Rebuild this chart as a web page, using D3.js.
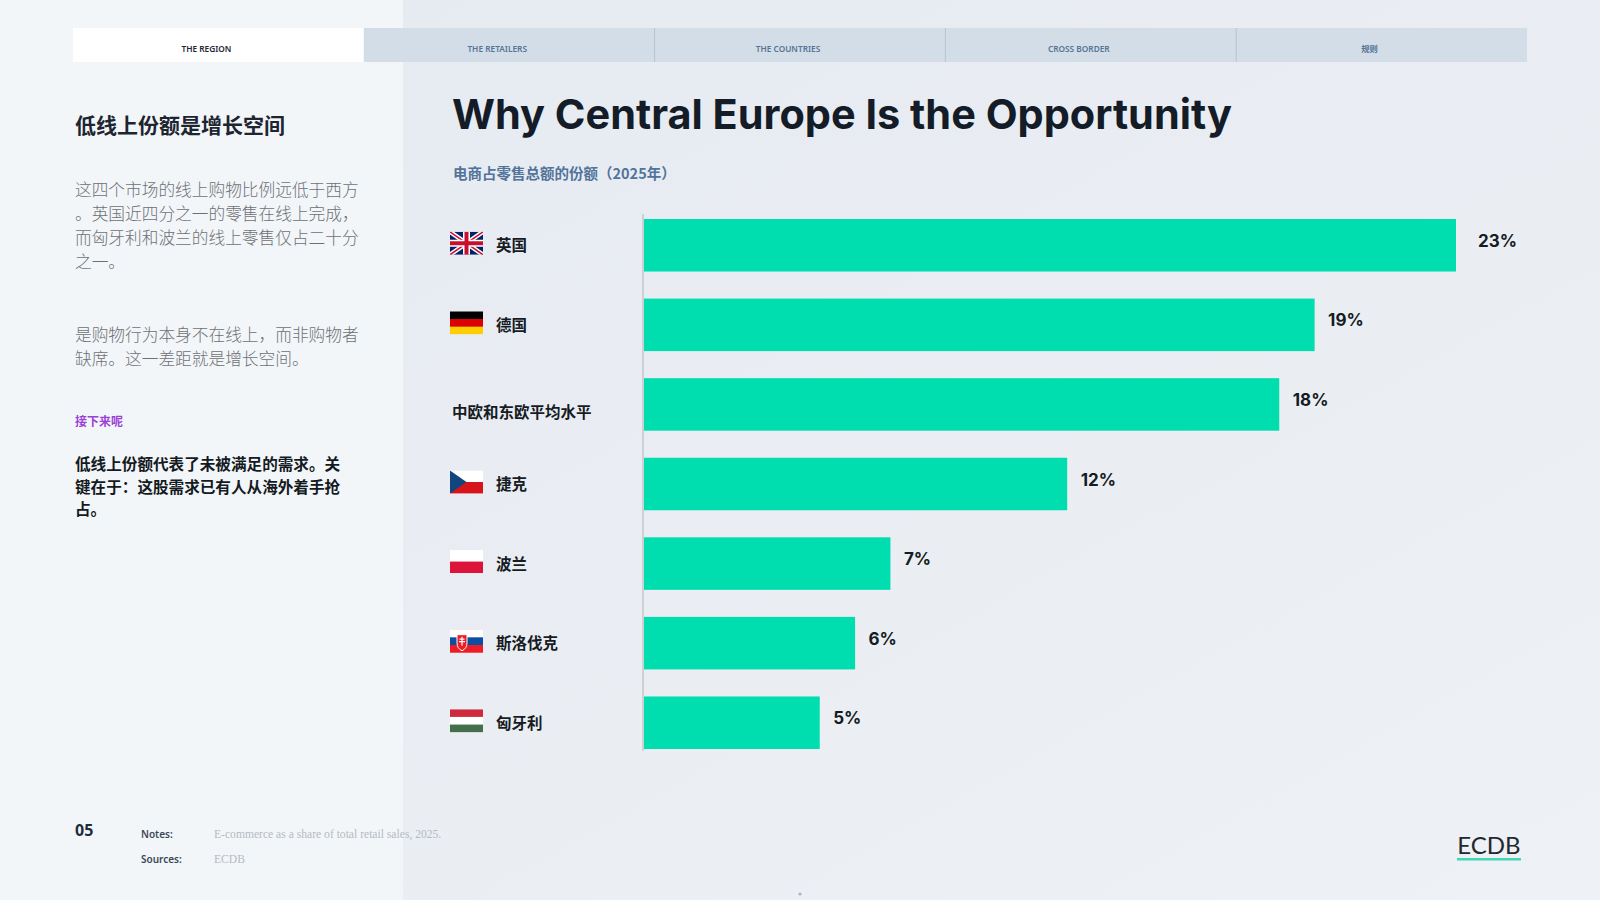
<!DOCTYPE html>
<html>
<head>
<meta charset="utf-8">
<script src="https://cdn.jsdelivr.net/npm/d3@7"></script>
<style>
  body { margin: 0; background: #eceff4; }
  svg { display: block; }
</style>
</head>
<body>
<div id="chart"></div>
<script>
// chart data
const countries = ["英国", "德国", "中欧和东欧平均水平", "捷克", "波兰", "斯洛伐克", "匈牙利"];
const shares = [23, 19, 18, 12, 7, 6, 5];
const flags = ["uk", "de", null, "cz", "pl", "sk", "hu"];

const tabs = ["THE REGION", "THE RETAILERS", "THE COUNTRIES", "CROSS BORDER", "规则"];
const para1 = ["这四个市场的线上购物比例远低于西方", "。英国近四分之一的零售在线上完成，", "而匈牙利和波兰的线上零售仅占二十分", "之一。"];
const para2 = ["是购物行为本身不在线上，而非购物者", "缺席。这一差距就是增长空间。"];
const boldLines = ["低线上份额代表了未被满足的需求。关", "键在于：这股需求已有人从海外着手抢", "占。"];

const width = 1600, height = 900;
const cjk = "'Noto Sans CJK SC', 'Noto Sans', sans-serif";

const svg = d3.select("#chart").append("svg")
    .attr("width", width)
    .attr("height", height);

const defs = svg.append("defs");
const grad = defs.append("linearGradient").attr("id", "bg")
    .attr("x1", "0").attr("y1", "0").attr("x2", "1").attr("y2", "1");
grad.append("stop").attr("offset", "0").attr("stop-color", "#e5eaf1");
grad.append("stop").attr("offset", "1").attr("stop-color", "#eef1f5");

svg.append("rect").attr("width", width).attr("height", height).attr("fill", "url(#bg)");
// left panel
svg.append("rect").attr("width", 403).attr("height", height).attr("fill", "#f3f6f9");

// tabs
const tabX = d3.scaleBand().domain(tabs).range([73, 1527]);
const tabG = svg.append("g").selectAll("g").data(tabs).enter().append("g");
tabG.append("rect")
    .attr("x", d => tabX(d))
    .attr("y", 28)
    .attr("width", tabX.bandwidth())
    .attr("height", 34)
    .attr("fill", (d, i) => i === 0 ? "#ffffff" : "#d2dde7");
tabG.filter((d, i) => i > 1).append("line")
    .attr("x1", d => tabX(d)).attr("x2", d => tabX(d))
    .attr("y1", 28).attr("y2", 62)
    .attr("stroke", "#b6c4d1").attr("stroke-width", 1);
tabG.append("text")
    .attr("x", d => tabX(d) + tabX.bandwidth() / 2 - 12)
    .attr("y", 51.5)
    .attr("text-anchor", "middle")
    .style("font-family", "'Noto Sans', " + cjk)
    .style("font-size", "8.3px")
    .style("font-weight", 600)
    .style("fill", (d, i) => i === 0 ? "#1b2633" : "#557596")
    .text(d => d);

// left column text
svg.append("text")
    .attr("x", 75).attr("y", 133)
    .style("font-family", cjk).style("font-size", "21px").style("font-weight", 700)
    .style("fill", "#1c2530")
    .text("低线上份额是增长空间");

function lines(arr, y0, lh, size, weight, color) {
    svg.append("g").selectAll("text").data(arr).enter().append("text")
        .attr("x", 75)
        .attr("y", (d, i) => y0 + i * lh)
        .style("font-family", cjk).style("font-size", size + "px")
        .style("font-weight", weight).style("fill", color)
        .text(d => d);
}
lines(para1, 196, 24, 16.7, 300, "#6d7176");
lines(para2, 341, 24, 16.7, 300, "#6d7176");
svg.append("text")
    .attr("x", 75).attr("y", 426)
    .style("font-family", cjk).style("font-size", "12px").style("font-weight", 700)
    .style("fill", "#9b42d6")
    .text("接下来呢");
lines(boldLines, 470, 22.5, 15.6, 700, "#141a22");

// title
const title = svg.append("text")
    .attr("x", 452).attr("y", 129)
    .style("font-family", "Inter, 'Noto Sans', sans-serif")
    .style("font-size", "46px").style("font-weight", 700)
    .style("fill", "#141c27")
    .text("Why Central Europe Is the Opportunity");
const tw = title.node().getComputedTextLength();
title.style("font-size", (46 * 780 / tw) + "px");

svg.append("text")
    .attr("x", 453).attr("y", 179)
    .style("font-family", cjk).style("font-size", "14.5px").style("font-weight", 700)
    .style("fill", "#52739a")
    .text("电商占零售总额的份额（2025年）");

// scales
const x = d3.scaleLinear().domain([0, d3.max(shares)]).range([643, 1456]);
const y = d3.scaleBand().domain(countries).range([219, 749]).paddingInner(0.34).paddingOuter(0);

// axis line
svg.append("line")
    .attr("x1", 643).attr("x2", 643)
    .attr("y1", y.range()[0] - 5).attr("y2", y.range()[1] + 2)
    .attr("stroke", "#c3c7cc").attr("stroke-width", 1.5);

// bars
svg.append("g").selectAll("rect").data(countries).enter().append("rect")
    .attr("x", x(0) + 1)
    .attr("y", d => y(d))
    .attr("width", (d, i) => x(shares[i]) - x(0) - 1)
    .attr("height", y.bandwidth())
    .attr("fill", "#00ddae");

// value labels (the longest bar's label sits a little further out)
const maxShare = d3.max(shares);
svg.append("g").selectAll("text").data(countries).enter().append("text")
    .attr("x", (d, i) => x(shares[i]) + (shares[i] === maxShare ? 22 : 13.5))
    .attr("y", d => y(d) + y.bandwidth() / 2 - 3)
    .attr("dominant-baseline", "middle")
    .style("font-family", "Inter, 'Noto Sans', sans-serif")
    .style("font-size", "17px").style("font-weight", 700)
    .style("fill", "#151b22")
    .text((d, i) => shares[i] + "%");

// country labels
svg.append("g").selectAll("text").data(countries).enter().append("text")
    .attr("x", (d, i) => flags[i] ? 496 : 452)
    .attr("y", (d, i) => y(d) + y.bandwidth() / 2 + (flags[i] ? 2 : 9))
    .attr("dominant-baseline", "middle")
    .style("font-family", cjk).style("font-size", "15.5px").style("font-weight", 700)
    .style("fill", "#161c24")
    .text(d => d);

// flags
const fw = 33, fh = 23;
function stripes(g, cols) {
    cols.forEach((c, k) => {
        g.append("rect").attr("x", 0).attr("y", k * fh / cols.length)
            .attr("width", fw).attr("height", fh / cols.length + 0.3).attr("fill", c);
    });
}
defs.append("clipPath").attr("id", "flagclip")
    .append("rect").attr("width", fw).attr("height", fh);

countries.forEach((c, i) => {
    const f = flags[i];
    if (!f) return;
    const g = svg.append("g")
        .attr("transform", `translate(450,${y(c) + y.bandwidth() / 2 - fh / 2 - 2})`)
        .attr("clip-path", "url(#flagclip)");
    if (f === "de") stripes(g, ["#000000", "#dd0000", "#ffce00"]);
    if (f === "pl") stripes(g, ["#ffffff", "#dc143c"]);
    if (f === "hu") stripes(g, ["#cd2a3e", "#ffffff", "#436f4d"]);
    if (f === "cz") {
        stripes(g, ["#ffffff", "#d7141a"]);
        g.append("path").attr("d", `M0,0L${fw / 2},${fh / 2}L0,${fh}Z`).attr("fill", "#11457e");
    }
    if (f === "sk") {
        stripes(g, ["#ffffff", "#0b4ea2", "#ee1c25"]);
        g.append("path")
            .attr("d", "M7,5 h10 v8 q0,6 -5,8 q-5,-2 -5,-8 Z")
            .attr("fill", "#ee1c25").attr("stroke", "#ffffff").attr("stroke-width", 1);
        g.append("path").attr("d", "M12,7 v9 M9.5,9.5 h5 M9,12 h6")
            .attr("stroke", "#ffffff").attr("stroke-width", 1.2);
    }
    if (f === "uk") {
        g.append("rect").attr("width", fw).attr("height", fh).attr("fill", "#012169");
        g.append("path").attr("d", `M0,0L${fw},${fh}M${fw},0L0,${fh}`)
            .attr("stroke", "#ffffff").attr("stroke-width", 4.5);
        g.append("path").attr("d", `M0,0L${fw},${fh}M${fw},0L0,${fh}`)
            .attr("stroke", "#c8102e").attr("stroke-width", 1.5);
        g.append("path").attr("d", `M${fw / 2},0V${fh}M0,${fh / 2}H${fw}`)
            .attr("stroke", "#ffffff").attr("stroke-width", 7);
        g.append("path").attr("d", `M${fw / 2},0V${fh}M0,${fh / 2}H${fw}`)
            .attr("stroke", "#c8102e").attr("stroke-width", 4);
    }
});

// footer
svg.append("text")
    .attr("x", 75).attr("y", 836)
    .style("font-family", "'Noto Sans', sans-serif").style("font-size", "16px").style("font-weight", 700)
    .style("fill", "#1d2c3c")
    .text("05");
const notes = [["Notes:", "E-commerce as a share of total retail sales, 2025."], ["Sources:", "ECDB"]];
notes.forEach((n, i) => {
    svg.append("text")
        .attr("x", 141).attr("y", 838 + i * 25)
        .style("font-family", "'Noto Sans', sans-serif").style("font-size", "10px").style("font-weight", 600)
        .style("fill", "#3a4857")
        .text(n[0]);
    svg.append("text")
        .attr("x", 214).attr("y", 838 + i * 25)
        .style("font-family", "'Liberation Serif', serif").style("font-size", "11.6px")
        .style("fill", "#b3bac2")
        .text(n[1]);
});

// logo
svg.append("text")
    .attr("x", 1489).attr("y", 854)
    .attr("text-anchor", "middle")
    .style("font-family", "Lato, 'Noto Sans', sans-serif").style("font-size", "24px").style("font-weight", 400)
    .style("fill", "#22282e")
    .text("ECDB");
svg.append("rect")
    .attr("x", 1457).attr("y", 858).attr("width", 64).attr("height", 2.5)
    .attr("fill", "#45d6b6");

svg.append("circle").attr("cx", 800).attr("cy", 894).attr("r", 1.6).attr("fill", "#aab4c0");
</script>
</body>
</html>
